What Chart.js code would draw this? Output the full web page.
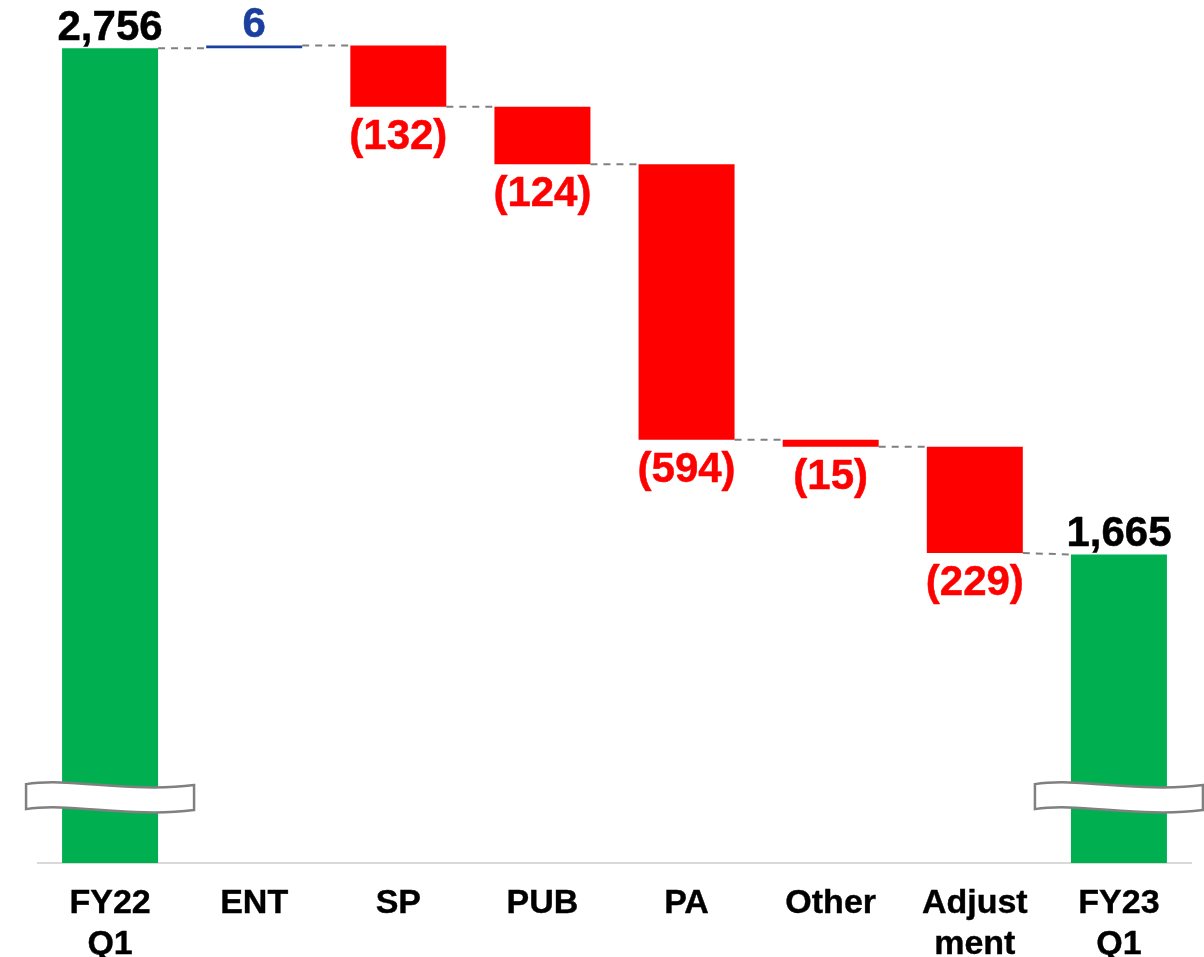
<!DOCTYPE html>
<html>
<head>
<meta charset="utf-8">
<script src="https://cdn.jsdelivr.net/npm/chart.js@4/dist/chart.umd.min.js"></script>
<style>
  html, body { margin: 0; padding: 0; background: #fff; }
  #wrap { width: 1204px; height: 957px; }
</style>
</head>
<body>
<div id="wrap"><canvas id="bridge"></canvas></div>
<script>
// Dados do gráfico
const categories = [['FY22', 'Q1'], 'ENT', 'SP', 'PUB', 'PA', 'Other', ['Adjust', 'ment'], ['FY23', 'Q1']];
const startValue = 2756;
const changes = [6, -132, -124, -594, -15, -229];
const endValue = 1665;
const axisMin = 1000;
const axisMax = 2860;

const GREEN = '#00b050';
const RED = '#ff0000';
const BLUE = '#1a3f9e';

// Monta as barras flutuantes a partir dos dados
const ranges = [[axisMin, startValue]];
const colors = [GREEN];
let running = startValue;
changes.forEach(c => {
    ranges.push([running, running + c]);
    colors.push(c >= 0 ? BLUE : RED);
    running += c;
});
ranges.push([axisMin, endValue]);
colors.push(GREEN);

const labelTexts = [startValue.toLocaleString('en-US')]
    .concat(changes.map(c => c >= 0 ? String(c) : '(' + Math.abs(c) + ')'))
    .concat([endValue.toLocaleString('en-US')]);
const labelColors = ['#000'].concat(changes.map(c => c >= 0 ? BLUE : RED)).concat(['#000']);
const labelBelow = [false].concat(changes.map(c => c < 0)).concat([false]);

// Linhas tracejadas entre as barras
const connectorPlugin = {
    id: 'connectors',
    beforeDatasetsDraw(chart) {
        const ctx = chart.ctx;
        const meta = chart.getDatasetMeta(0);
        const y = chart.scales.y;
        ctx.save();
        ctx.strokeStyle = '#808080';
        ctx.lineWidth = 2;
        ctx.setLineDash([7, 6]);
        for (let i = 0; i < meta.data.length - 1; i++) {
            const a = meta.data[i], b = meta.data[i + 1];
            const fromV = ranges[i][1];
            const toV = i + 1 === ranges.length - 1 ? ranges[i + 1][1] : ranges[i + 1][0];
            ctx.beginPath();
            ctx.moveTo(a.x + a.width / 2, y.getPixelForValue(fromV));
            ctx.lineTo(b.x - b.width / 2, y.getPixelForValue(toV));
            ctx.stroke();
        }
        ctx.restore();
    }
};

// Rótulos de valor e marcas de quebra do eixo
const labelPlugin = {
    id: 'valueLabels',
    afterDatasetsDraw(chart) {
        const ctx = chart.ctx;
        const meta = chart.getDatasetMeta(0);
        const y = chart.scales.y;

        // marcas de quebra nas barras verdes
        const breakY = y.getPixelForValue(1142);
        [0, meta.data.length - 1].forEach(i => {
            const cx = meta.data[i].x;
            ctx.save();
            ctx.beginPath();
            ctx.moveTo(cx - 84, breakY - 13);
            ctx.bezierCurveTo(cx - 40, breakY - 20, cx + 20, breakY - 4, cx + 84, breakY - 12);
            ctx.lineTo(cx + 84, breakY + 13);
            ctx.bezierCurveTo(cx + 20, breakY + 21, cx - 40, breakY + 5, cx - 84, breakY + 12);
            ctx.closePath();
            ctx.fillStyle = '#fff';
            ctx.fill();
            ctx.strokeStyle = '#808080';
            ctx.lineWidth = 2.5;
            ctx.stroke();
            ctx.restore();
        });

        ctx.save();
        ctx.font = 'bold 42px "Liberation Sans", Arial, sans-serif';
        ctx.textAlign = 'center';
        ctx.textBaseline = 'alphabetic';
        ctx.lineWidth = 0.5;
        ctx.lineJoin = 'round';
        meta.data.forEach((bar, i) => {
            const top = Math.min(bar.y, bar.base);
            const bottom = Math.max(bar.y, bar.base);
            const ty = labelBelow[i] ? bottom + 42 : top - 8;
            ctx.fillStyle = labelColors[i];
            ctx.strokeStyle = labelColors[i];
            ctx.fillText(labelTexts[i], bar.x, ty);
            ctx.strokeText(labelTexts[i], bar.x, ty);
        });
        ctx.restore();
    }
};

new Chart(document.getElementById('bridge'), {
    type: 'bar',
    data: {
        labels: categories,
        datasets: [{
            data: ranges,
            backgroundColor: colors,
            borderWidth: 0,
            barPercentage: 0.666,
            categoryPercentage: 1
        }]
    },
    options: {
        responsive: true,
        maintainAspectRatio: false,
        animation: false,
        layout: { padding: { left: 38, right: 13, top: 0, bottom: 0 } },
        plugins: {
            legend: { display: false },
            tooltip: { enabled: false }
        },
        scales: {
            x: {
                grid: { display: false },
                border: { display: true, color: '#d9d9d9', width: 2 },
                ticks: {
                    color: '#000',
                    textStrokeColor: '#000',
                    textStrokeWidth: 0.4,
                    padding: 12,
                    maxRotation: 0,
                    autoSkip: false,
                    font: { family: '"Liberation Sans", Arial, sans-serif', size: 34, weight: 'bold', lineHeight: 1.2 }
                },
                afterFit(scale) { scale.height = 94; }
            },
            y: {
                display: false,
                min: axisMin,
                max: axisMax
            }
        }
    },
    plugins: [connectorPlugin, labelPlugin]
});
</script>
</body>
</html>
